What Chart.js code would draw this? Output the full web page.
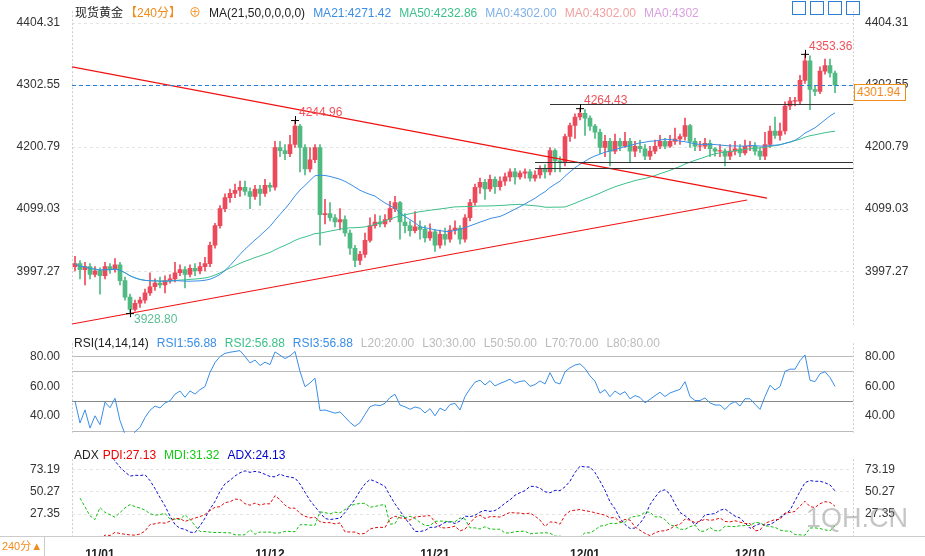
<!DOCTYPE html>
<html lang="zh">
<head>
<meta charset="UTF-8">
<title>现货黄金 240分</title>
<script src="https://cdn.jsdelivr.net/npm/chart.js"></script>
<style>
  body { margin: 0; background: #fff; font-family: "Liberation Sans", "Noto Sans CJK SC", sans-serif; }
  #wrap { position: relative; width: 925px; height: 556px; overflow: hidden; }
  canvas { position: absolute; left: 0; }
  .hdr { position: absolute; font-size: 12px; white-space: nowrap; color: #333; }
  .hdr span { margin-right: 8px; }
  #mark { position: absolute; left: 806px; top: 503px; font-size: 27px; color: rgba(150,150,150,0.55); font-family: "Liberation Sans", sans-serif; }
  #period { position: absolute; left: 0; top: 537px; width: 44px; height: 19px; border-right: 1px solid #ccc; color: #f08c1a; font-size: 11px; line-height: 19px; text-align: center; white-space: nowrap; }
  #band { position: absolute; left: 0; top: 536px; width: 925px; height: 0; border-top: 1px solid #ccc; }
  #price { position: absolute; left: 854px; top: 84px; width: 48px; height: 15px; border: 1px solid #f08c1a; color: #f08c1a; font-size: 12px; line-height: 15px; padding-left: 2px; background: #fff; }
  .ico { position: absolute; top: 1px; width: 12px; height: 12px; border: 1px solid #2a7fd4; }
</style>
</head>
<body>
<div id="wrap">
  <canvas id="main" width="925" height="336" style="top:0"></canvas>
  <canvas id="rsi" width="925" height="112" style="top:332px"></canvas>
  <canvas id="adx" width="925" height="108" style="top:448px"></canvas>

  <div class="hdr" style="left:75px;top:3px">
    <span style="color:#222">现货黄金</span><span style="color:#f08c1a;margin-left:-6px">【240分】</span><span style="color:#f08c1a">⊕</span><span style="color:#222">MA(21,50,0,0,0,0)</span><span style="color:#3a8ee6">MA21:4271.42</span><span style="color:#3cc08a">MA50:4232.86</span><span style="color:#7fb0e8">MA0:4302.00</span><span style="color:#f2a0a0">MA0:4302.00</span><span style="color:#d8a0e0">MA0:4302</span>
  </div>
  <div class="hdr" style="left:74px;top:336px">
    <span style="color:#222">RSI(14,14,14)</span><span style="color:#3a8ee6">RSI1:56.88</span><span style="color:#3cc08a">RSI2:56.88</span><span style="color:#3a8ee6">RSI3:56.88</span><span style="color:#bbb">L20:20.00</span><span style="color:#bbb">L30:30.00</span><span style="color:#bbb">L50:50.00</span><span style="color:#bbb">L70:70.00</span><span style="color:#bbb">L80:80.00</span>
  </div>
  <div class="hdr" style="left:74px;top:448px">
    <span style="color:#222;margin-right:4px">ADX</span><span style="color:#e00">PDI:27.13</span><span style="color:#1c1">MDI:31.32</span><span style="color:#00c">ADX:24.13</span>
  </div>
  <div class="ico" style="left:792px"></div><div class="ico" style="left:810px"></div><div class="ico" style="left:828px"></div><div class="ico" style="left:846px"></div>
  <div id="price">4301.94</div>
  <div id="mark">1QH.CN</div>
  <div id="band"></div>
  <div id="period">240分▲</div>
</div>

<script>
// 240-minute candles (index 0 = first candle)
const closes = [4010,4000,4005,3992,3998,3990,4005,4000,4008,3982,3955,3935,3945,3950,3962,3972,3978,3975,3982,3985,
  3995,4000,3992,4002,3998,4005,4010,4040,4072,4100,4118,4125,4130,4135,4128,4120,4132,4125,4138,4135,
  4200,4195,4190,4205,4235,4200,4165,4180,4200,4090,4092,4085,4078,4082,4060,4035,4015,4025,4048,4072,
  4078,4075,4082,4100,4110,4078,4072,4064,4070,4066,4052,4062,4040,4058,4050,4065,4068,4050,4085,4110,
  4135,4143,4132,4148,4136,4145,4152,4160,4152,4158,4160,4150,4155,4165,4160,4195,4178,4175,4218,4236,
  4250,4256,4248,4235,4225,4200,4210,4194,4210,4202,4210,4194,4202,4198,4186,4194,4202,4210,4202,4210,
  4214,4218,4236,4210,4202,4202,4207,4198,4194,4194,4186,4194,4198,4191,4202,4202,4194,4186,4205,4227,
  4220,4227,4268,4276,4276,4310,4342,4295,4292,4325,4334,4322,4301.94];
const highs = [4022,4015,4012,4010,4005,4003,4012,4010,4018,4012,3988,3960,3950,3955,3968,3995,3985,3988,3990,3992,
  4012,4008,4005,4008,4010,4012,4020,4045,4076,4105,4124,4132,4140,4145,4145,4134,4138,4138,4148,4142,
  4210,4210,4205,4220,4244.96,4238,4205,4200,4205,4205,4115,4110,4090,4100,4088,4065,4040,4030,4060,4085,
  4090,4088,4090,4112,4120,4112,4092,4080,4095,4080,4072,4075,4066,4065,4068,4072,4080,4072,4090,4115,
  4140,4150,4148,4155,4152,4152,4158,4165,4166,4162,4165,4164,4162,4170,4172,4200,4198,4185,4222,4240,
  4255,4264.43,4262,4252,4238,4230,4220,4215,4222,4215,4225,4215,4210,4212,4205,4202,4212,4220,4215,4220,
  4232,4222,4248,4238,4215,4210,4215,4212,4200,4205,4198,4205,4210,4205,4212,4210,4208,4200,4225,4235,
  4250,4240,4275,4282,4282,4318,4353.36,4350,4302,4332,4345,4345,4325];
const lows = [3998,3985,3975,3985,3988,3960,3985,3994,3996,3975,3950,3928.8,3932,3938,3945,3958,3966,3970,3962,3978,
  3980,3990,3970,3988,3990,3993,3998,4005,4035,4068,4095,4110,4118,4120,4122,4100,4115,4105,4120,4128,
  4130,4185,4180,4185,4200,4160,4155,4160,4175,4040,4075,4080,4070,4065,4055,4025,4005,4008,4020,4045,
  4068,4070,4070,4078,4095,4050,4060,4055,4060,4050,4045,4048,4030,4035,4040,4045,4058,4042,4045,4080,
  4105,4125,4115,4128,4125,4130,4138,4145,4140,4148,4150,4145,4145,4150,4150,4155,4160,4160,4170,4210,
  4215,4245,4220,4228,4215,4190,4185,4170,4190,4195,4200,4175,4185,4192,4180,4180,4190,4198,4198,4200,
  4205,4205,4212,4200,4195,4195,4198,4185,4186,4185,4170,4180,4188,4185,4188,4195,4188,4180,4180,4200,
  4215,4212,4222,4262,4268,4270,4305,4262,4285,4288,4320,4315,4290];
const firstOpen = 4005;
const opens = [firstOpen, ...closes.slice(0, -1)];

const priceTicks = [4404.31, 4302.55, 4200.79, 4099.03, 3997.27];
const rsiTicks = [80, 60, 40];
const rsiLevels = [80, 70, 50, 30];
const adxTicks = [73.19, 50.27, 27.35];
const dateLabels = ['11/01', '11/12', '11/21', '12/01', '12/10'];
const dateIndex = [5, 39, 72, 102, 135];

// marked levels (price units) and trendlines (index, price)
const peakLabels = [{i: 44, p: 4244.96, up: true}, {i: 101, p: 4264.43, up: true}, {i: 146, p: 4353.36, up: true}, {i: 11, p: 3928.80, up: false}];
const trendDown = [[-0.6, 4332], [138.4, 4117]];
const trendUp = [[-0.6, 3911], [134.4, 4114]];
const hLines = [[95, 4271.4], [92, 4176], [92, 4166]];
const lastPrice = 4301.94;

const UP = '#ec4a5a', DOWN = '#4fba82';
const N = closes.length;
const XMIN = -0.6, XMAX = 155.6;

function sma(arr, n) {
  return arr.map((v, i) => {
    const s = arr.slice(Math.max(0, i - n + 1), i + 1).filter(x => x !== null);
    return s.reduce((a, b) => a + b, 0) / s.length;
  });
}
function rsi(arr, n) {
  const out = [];
  let ag = 1, al = 1;
  for (let i = 0; i < arr.length; i++) {
    const d = i ? arr[i] - arr[i - 1] : 0;
    ag = (ag * (n - 1) + Math.max(d, 0)) / n;
    al = (al * (n - 1) + Math.max(-d, 0)) / n;
    out.push(100 - 100 / (1 + ag / al));
  }
  return out;
}
// DMI in the usual Chinese-terminal form: sums over N, ADX = MA(DX, 6)
function dmi(n, m) {
  const TR = [0], PD = [0], MD = [0];
  for (let i = 1; i < N; i++) {
    TR.push(Math.max(highs[i] - lows[i], Math.abs(highs[i] - closes[i - 1]), Math.abs(lows[i] - closes[i - 1])));
    const up = highs[i] - highs[i - 1], dn = lows[i - 1] - lows[i];
    PD.push(up > dn && up > 0 ? up : 0);
    MD.push(dn > up && dn > 0 ? dn : 0);
  }
  const sum = (a, i) => a.slice(Math.max(1, i - n + 1), i + 1).reduce((x, y) => x + y, 0);
  const P = [], M = [], DX = [];
  for (let i = 1; i < N; i++) {
    const t = sum(TR, i);
    const p = 100 * sum(PD, i) / t, q = 100 * sum(MD, i) / t;
    P.push(p); M.push(q); DX.push(p + q ? 100 * Math.abs(p - q) / (p + q) : 0);
  }
  return {P: [null, ...P], M: [null, ...M], A: [null, ...sma(DX, m)]};
}
const pts = arr => arr.map((v, i) => ({x: i, y: v}));

const font = {family: '"Liberation Sans", sans-serif', size: 12};
function sideAxes(min, max, ticks) {
  const base = {
    min, max, grid: {display: false}, border: {display: false},
    afterBuildTicks: ax => { ax.ticks = ticks.map(v => ({value: v})); },
    ticks: {color: '#333', font, padding: 4, callback: v => (+v).toFixed(2)}
  };
  return {
    y: {...base, position: 'left', afterFit: ax => { ax.width = 72; }},
    y2: {...base, position: 'right', afterFit: ax => { ax.width = 72; }}
  };
}
function gridLines(values, colorFn, dash) {
  return {
    id: 'grid',
    beforeDatasetsDraw(chart) {
      const {ctx, chartArea: a, scales} = chart;
      ctx.save();
      ctx.lineWidth = 1;
      values.forEach(v => {
        const y = Math.round(scales.y.getPixelForValue(v)) + 0.5;
        ctx.strokeStyle = colorFn(v);
        ctx.setLineDash(dash);
        ctx.beginPath(); ctx.moveTo(a.left, y); ctx.lineTo(a.right, y); ctx.stroke();
      });
      ctx.setLineDash([2, 2]);
      ctx.strokeStyle = '#ccc';
      [a.left + 0.5, a.right + 0.5].forEach(x => { ctx.beginPath(); ctx.moveTo(x, a.top); ctx.lineTo(x, a.bottom); ctx.stroke(); });
      ctx.restore();
    }
  };
}
const xScale = (display) => ({
  type: 'linear', min: XMIN, max: XMAX, offset: false,
  display, grid: {display: false}, border: {display: false},
  afterBuildTicks: ax => { ax.ticks = dateIndex.map(v => ({value: v})); },
  afterFit: ax => { if (display) ax.height = 20; },
  ticks: {color: '#222', font: {...font, weight: 'bold'}, maxRotation: 0, autoSkip: false, padding: 3,
    callback: v => dateLabels[dateIndex.indexOf(v)] || ''}
});
const baseOpts = {
  animation: false, responsive: false, events: [],
  layout: {padding: 0, autoPadding: false},
  plugins: {legend: {display: false}, tooltip: {enabled: false}}
};

// ---------- main price chart ----------
const annot = {
  id: 'annot',
  afterDatasetsDraw(chart) {
    const {ctx, chartArea: a, scales: {x, y}} = chart;
    ctx.save();
    ctx.beginPath(); ctx.rect(a.left, a.top, a.width, a.height); ctx.clip();
    ctx.strokeStyle = '#f01010'; ctx.lineWidth = 1.2;
    [trendDown, trendUp].forEach(l => {
      ctx.beginPath();
      ctx.moveTo(x.getPixelForValue(l[0][0]), y.getPixelForValue(l[0][1]));
      ctx.lineTo(x.getPixelForValue(l[1][0]), y.getPixelForValue(l[1][1]));
      ctx.stroke();
    });
    ctx.lineWidth = 1; ctx.strokeStyle = '#333';
    hLines.forEach(([i, p]) => {
      const yy = Math.round(y.getPixelForValue(p)) + 0.5;
      ctx.beginPath(); ctx.moveTo(x.getPixelForValue(i), yy); ctx.lineTo(a.right, yy); ctx.stroke();
    });
    ctx.strokeStyle = '#2a7fd4'; ctx.setLineDash([4, 3]);
    const ly = Math.round(y.getPixelForValue(lastPrice)) + 0.5;
    ctx.beginPath(); ctx.moveTo(a.left, ly); ctx.lineTo(a.right, ly); ctx.stroke();
    ctx.setLineDash([]);
    ctx.font = '12px "Liberation Sans", sans-serif';
    peakLabels.forEach(({i, p, up}) => {
      const px = x.getPixelForValue(i), py = y.getPixelForValue(p);
      ctx.strokeStyle = '#000';
      ctx.beginPath(); ctx.moveTo(px - 4, py + 0.5); ctx.lineTo(px + 4, py + 0.5);
      ctx.moveTo(px + 0.5, py - 4); ctx.lineTo(px + 0.5, py + 4); ctx.stroke();
      ctx.fillStyle = up ? '#f0505a' : '#5bbf95';
      ctx.textBaseline = up ? 'bottom' : 'top';
      ctx.fillText(p.toFixed(2), px + 4, up ? py - 1 : py + 1);
    });
    ctx.restore();
  }
};
new Chart(document.getElementById('main'), {
  type: 'bar',
  data: {datasets: [
    {type: 'line', data: pts(sma(closes, 21)), borderColor: '#3a8ee6', borderWidth: 1, pointRadius: 0, order: 1},
    {type: 'line', data: pts(sma(closes, 50)), borderColor: '#3cc08a', borderWidth: 1, pointRadius: 0, order: 1},
    {data: closes.map((c, i) => ({x: i, y: [lows[i], highs[i]]})), backgroundColor: closes.map((c, i) => c >= opens[i] ? UP : DOWN),
      barThickness: 1, grouped: false, order: 3},
    {data: closes.map((c, i) => ({x: i, y: [opens[i], c === opens[i] ? c + 0.8 : c]})), backgroundColor: closes.map((c, i) => c >= opens[i] ? UP : DOWN),
      barThickness: 4, grouped: false, order: 2}
  ]},
  options: {...baseOpts, scales: {x: xScale(false), ...sideAxes(3909.7, 4423.2, priceTicks)}},
  plugins: [gridLines(priceTicks, () => '#e4e4e4', [3, 3]), annot]
});

// ---------- RSI ----------
new Chart(document.getElementById('rsi'), {
  type: 'line',
  data: {datasets: [{data: pts(rsi(closes, 14)), borderColor: '#3a8ee6', borderWidth: 1, pointRadius: 0}]},
  options: {...baseOpts, scales: {x: xScale(false), ...sideAxes(28.8, 88.8, rsiTicks)}},
  plugins: [gridLines(rsiLevels, v => v === 50 ? '#888' : '#bbb', [])]
});

// ---------- ADX ----------
const d = dmi(14, 6);
const dashLine = (arr, c) => ({data: pts(arr), borderColor: c, borderWidth: 1, borderDash: [3, 2], pointRadius: 0});
new Chart(document.getElementById('adx'), {
  type: 'line',
  data: {datasets: [dashLine(d.P, '#e01010'), dashLine(d.M, '#10c010'), dashLine(d.A, '#1010d0')]},
  options: {...baseOpts, scales: {x: xScale(true), ...sideAxes(4.1, 83.6, adxTicks)}},
  plugins: [gridLines(adxTicks, () => '#e4e4e4', [3, 3])]
});
</script>
</body>
</html>
